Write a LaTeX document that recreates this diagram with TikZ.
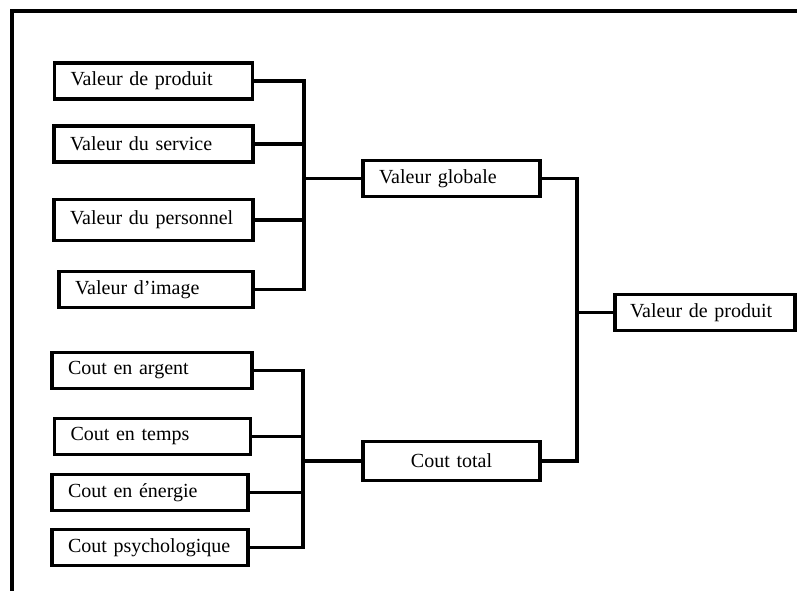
\documentclass[tikz,border=0pt]{standalone}
\usepackage{fontspec}
\setmainfont{Liberation Serif}
\newfontfamily\boxfont{Liberation Serif}
\begin{document}
\begin{tikzpicture}[x=0.75pt,y=-0.75pt,
  every node/.style={font=\boxfont\fontsize{15}{17}\selectfont},
  box/.style={draw, line width=2.5pt, rectangle, inner xsep=16*0.75pt, inner ysep=0pt,
              align=left, minimum height=36*0.75pt},
  conn/.style={line width=2.5pt, line join=miter, line cap=rect}]
\useasboundingbox (0,0) rectangle (797,591);

% outer frame (top and left sides only)
\draw[line width=2.8pt] (12,591) -- (12,11) -- (797,11);

% value components
\node[box, text width=166*0.75pt] (vp)  at (153.5,81)   {Valeur de produit};
\node[box, text width=167*0.75pt] (vs)  at (153.5,144)  {Valeur du service};
\node[box, text width=167*0.75pt, minimum height=41*0.75pt] (vpe) at (153.5,220) {Valeur du personnel};
\node[box, text width=162*0.75pt, xshift=1.5*0.75pt] (vi) at (154.5,289.5) {Valeur d’image};

% cost components
\node[box, text width=168*0.75pt] (ca)  at (152,370.5)  {Cout en argent};
\node[box, text width=164*0.75pt] (ct)  at (152.5,436.5) {Cout en temps};
\node[box, text width=164*0.75pt] (ce)  at (150,492.5)  {Cout en énergie};
\node[box, text width=164*0.75pt] (cp)  at (150,547.5)  {Cout psychologique};

% aggregates
\node[box, text width=145*0.75pt] (vg)   at (451.5,178.5) {Valeur globale};
\node[box, text width=145*0.75pt, align=center, minimum height=39*0.75pt] (ctot) at (451.5,461) {Cout total};
\node[box, text width=150*0.75pt, inner xsep=15*0.75pt] (vfin) at (705,312.5) {Valeur de produit};

% bracket spines
\coordinate (b1) at (304,0);
\coordinate (b2) at (303,0);
\coordinate (b3) at (577,0);

% value bracket
\draw[conn] (vp.east) -| (vi.east -| b1) -- (vi.east);
\draw[conn] (vs.east) -- (vs.east -| b1);
\draw[conn] (vpe.east) -- (vpe.east -| b1);
\draw[conn] (vg.west -| b1) -- (vg.west);

% cost bracket
\draw[conn] (ca.east) -| (cp.east -| b2) -- (cp.east);
\draw[conn] (ct.east) -- (ct.east -| b2);
\draw[conn] (ce.east) -- (ce.east -| b2);
\draw[conn] (ctot.west -| b2) -- (ctot.west);

% final bracket
\draw[conn] (vg.east) -| (ctot.east -| b3) -- (ctot.east);
\draw[conn] (vfin.west -| b3) -- (vfin.west);
\end{tikzpicture}
\end{document}
